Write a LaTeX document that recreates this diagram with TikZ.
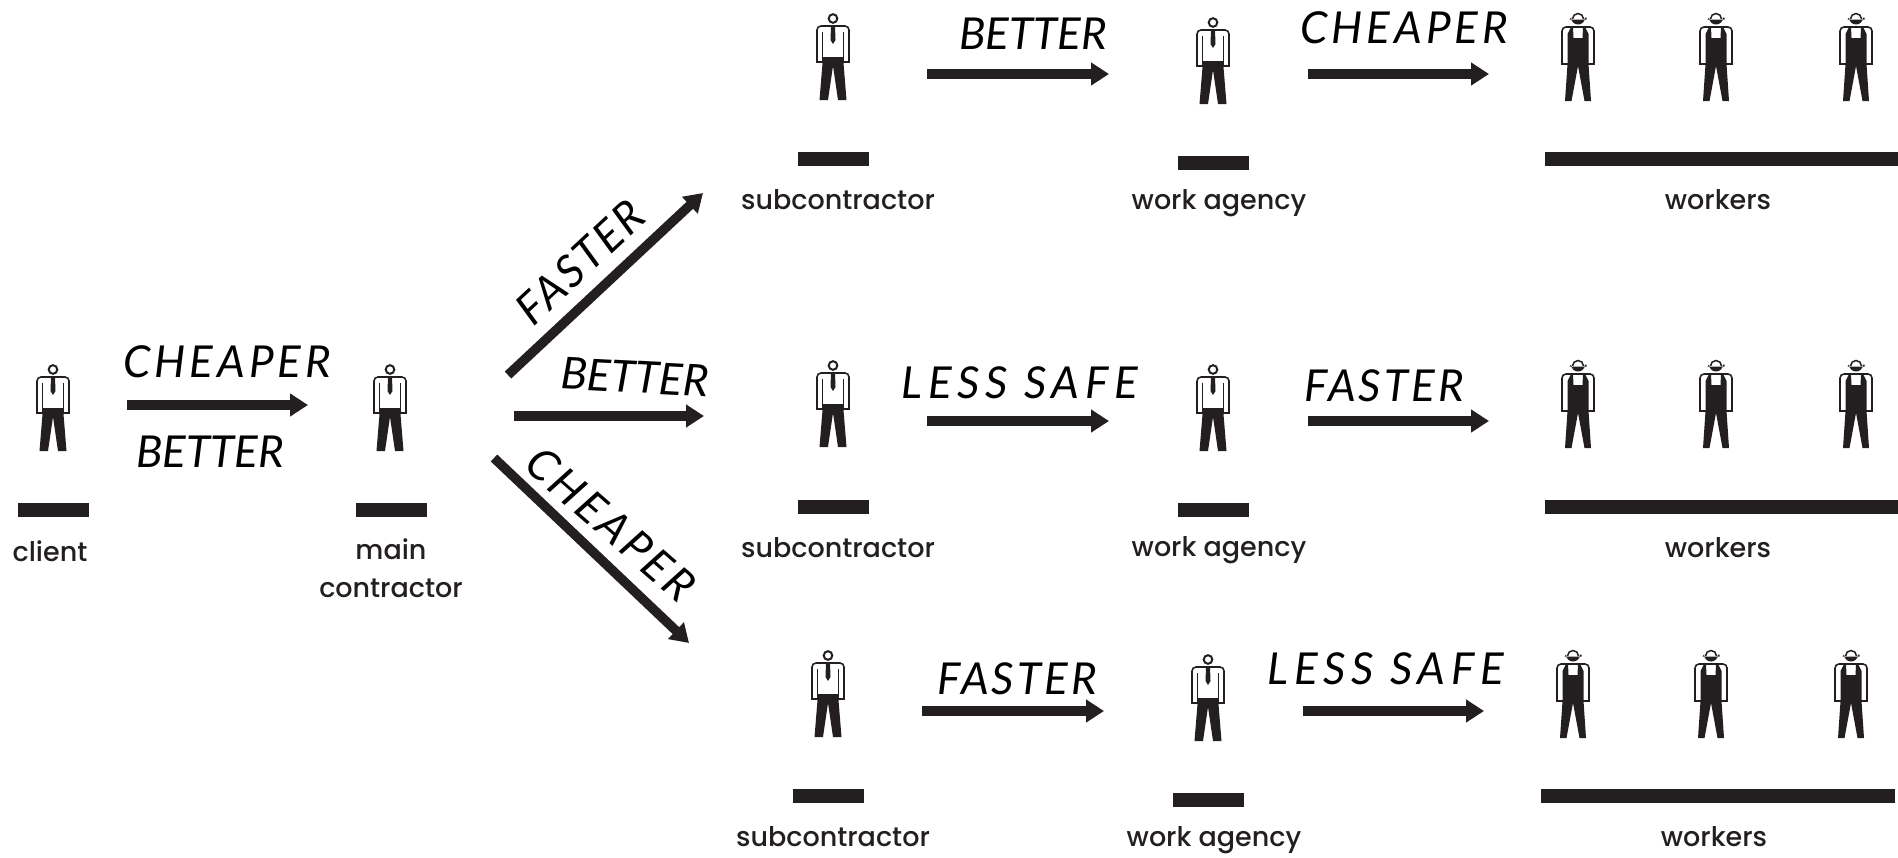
\documentclass[tikz,border=0pt]{standalone}
\usepackage{fontspec}
\setmainfont{Poppins Medium}
\newfontfamily\handfont{Lato}
\usetikzlibrary{arrows.meta,positioning}
\definecolor{inkdark}{HTML}{231F20}
\tikzset{
  manfigure/.pic={
    \draw[inkdark,line width=2pt] (0,5.5) circle[radius=4.3];
    \draw[inkdark,line width=1.6pt] (-10,49) -- (-16,49) -- (-16,17) to[out=90,in=180] (-12,13) -- (12,13) to[out=0,in=90] (16,17) -- (16,49) -- (10,49);
    \draw[inkdark,line width=1.6pt] (-10.5,19) -- (-10.5,49) (10.5,19) -- (10.5,49);
    \fill[inkdark] (-2,13) -- (2,13) -- (2.5,27) -- (0,31) -- (-2.5,27) -- cycle;
    \fill[inkdark] (-10,44) -- (10,44) -- (13.5,87) -- (5,87) -- (0,53) -- (-5,87) -- (-13.5,87) -- cycle;
  },
  workerfigure/.pic={
    \fill[inkdark] (-7,7.5) arc[start angle=180,end angle=0,radius=7] -- (8.5,7.5) -- (8.5,9.5) -- (-8.5,9.5) -- cycle;
    \draw[inkdark,line width=1.5pt] (-5.5,9) arc[start angle=180,end angle=360,radius=5.5];
    \draw[inkdark,line width=1.6pt] (-10,54) -- (-16,54) -- (-16,21) to[out=90,in=180] (-12,17) -- (12,17) to[out=0,in=90] (16,21) -- (16,54) -- (10,54);
    \fill[inkdark] (-7,17) -- (-5,17) -- (-4.5,28) -- (4.5,28) -- (5,17) -- (7,17) -- (10.5,24) -- (10.5,54) -- (13,91) -- (6.5,91) -- (0,56) -- (-6.5,91) -- (-13,91) -- (-10.5,54) -- (-10.5,24) -- cycle;
  },
  barnode/.style={fill=inkdark,inner sep=0pt,minimum width=71pt,minimum height=14pt},
  crewbar/.style={barnode,minimum width=354pt},
  whoname/.style={anchor=base,text=inkdark,inner sep=0pt,font=\fontsize{27}{30}\selectfont},
  handtext/.style={text=black,inner sep=0pt,font=\handfont\itshape\fontsize{44}{48}\selectfont\addfontfeature{LetterSpace=#1}},
  handtext/.default=0,
  flowarrow/.style={draw=inkdark,line width=9.5pt,-{Triangle[length=18pt,width=22pt]}}
}
\begin{document}
\begin{tikzpicture}[x=1pt,y=-1pt,node distance=50pt,on grid]
	\useasboundingbox (0,0) rectangle (1898,857);

	\pic at (53,364) {manfigure};
	\node[barnode] (clientbar) at (53,510) {};
	\node[whoname,below=51pt of clientbar,anchor=base,xshift=-3pt] (clientname) {client};
	\pic at (390,364) {manfigure};
	\node[barnode] (mainbar) at (391,510) {};
	\node[whoname,below=49pt of mainbar,anchor=base] (mainname) {main};
	\node[whoname,below=49pt of mainname,anchor=base] (contractorname) {contractor};

	\pic at (833,13) {manfigure};
	\node[barnode] (subbar1) at (833,159) {};
	\node[whoname,below=of subbar1,anchor=base,xshift=5pt] (subname1) {subcontractor};
	\pic at (1213,17) {manfigure};
	\node[barnode] (agencybar1) at (1213,163) {};
	\node[whoname,below=46pt of agencybar1,anchor=base,xshift=6pt] (agencyname1) {work agency};
	\pic at (1578,10) {workerfigure};
	\pic at (1716,10) {workerfigure};
	\pic at (1856,10) {workerfigure};
	\node[crewbar] (crewbar1) at (1722,159) {};
	\node[whoname,below=of crewbar1,anchor=base,xshift=-4pt] (crewname1) {workers};

	\pic at (833,360) {manfigure};
	\node[barnode] (subbar2) at (833,507) {};
	\node[whoname,below=of subbar2,anchor=base,xshift=5pt] (subname2) {subcontractor};
	\pic at (1213,364) {manfigure};
	\node[barnode] (agencybar2) at (1213,510) {};
	\node[whoname,below=46pt of agencybar2,anchor=base,xshift=6pt] (agencyname2) {work agency};
	\pic at (1578,357) {workerfigure};
	\pic at (1716,357) {workerfigure};
	\pic at (1856,357) {workerfigure};
	\node[crewbar] (crewbar2) at (1722,507) {};
	\node[whoname,below=of crewbar2,anchor=base,xshift=-4pt] (crewname2) {workers};

	\pic at (828,650) {manfigure};
	\node[barnode] (subbar3) at (828,796) {};
	\node[whoname,below=of subbar3,anchor=base,xshift=5pt] (subname3) {subcontractor};
	\pic at (1208,654) {manfigure};
	\node[barnode] (agencybar3) at (1208,800) {};
	\node[whoname,below=46pt of agencybar3,anchor=base,xshift=6pt] (agencyname3) {work agency};
	\pic at (1573,647) {workerfigure};
	\pic at (1711,647) {workerfigure};
	\pic at (1851,647) {workerfigure};
	\node[crewbar] (crewbar3) at (1718,796) {};
	\node[whoname,below=of crewbar3,anchor=base,xshift=-4pt] (crewname3) {workers};

	\coordinate (clientout) at (127,405);
	\coordinate (mainin) at (308,405);
	\coordinate (mainup) at (508,375);
	\coordinate (uptip) at (703,193);
	\coordinate (mainmid) at (514,416);
	\coordinate (midtip) at (704,416);
	\coordinate (maindown) at (494,458);
	\coordinate (downtip) at (689,643);
	\coordinate (subout1) at (927,74);
	\coordinate (agencyin1) at (1109,74);
	\coordinate (agencyout1) at (1308,74);
	\coordinate (crewin1) at (1489,74);
	\coordinate (subout2) at (927,421);
	\coordinate (agencyin2) at (1109,421);
	\coordinate (agencyout2) at (1308,421);
	\coordinate (crewin2) at (1489,421);
	\coordinate (subout3) at (922,711);
	\coordinate (agencyin3) at (1104,711);
	\coordinate (agencyout3) at (1303,711);
	\coordinate (crewin3) at (1484,711);

	\draw[flowarrow] (clientout) -- (mainin);
	\draw[flowarrow] (mainup) -- (uptip);
	\draw[flowarrow] (mainmid) -- (midtip);
	\draw[flowarrow] (maindown) -- (downtip);
	\draw[flowarrow] (subout1) -- (agencyin1);
	\draw[flowarrow] (agencyout1) -- (crewin1);
	\draw[flowarrow] (subout2) -- (agencyin2);
	\draw[flowarrow] (agencyout2) -- (crewin2);
	\draw[flowarrow] (subout3) -- (agencyin3);
	\draw[flowarrow] (agencyout3) -- (crewin3);

	\node[handtext=9] (tagcheaper) at (227,362) {CHEAPER};
	\node[handtext] (tagbetter) at (210,452) {BETTER};
	\node[handtext=6,rotate=43] (tagup) at (580,262) {FASTER};
	\node[handtext,rotate=-3] (tagmid) at (635,377) {BETTER};
	\node[handtext=9,rotate=-41] (tagdown) at (611,524) {CHEAPER};
	\node[handtext] (tagbetter1) at (1033,34) {BETTER};
	\node[handtext=9] (tagcheaper1) at (1404,28) {CHEAPER};
	\node[handtext=13] (tagsafe2) at (1020,383) {LESS SAFE};
	\node[handtext=7] (tagfaster2) at (1384,386) {FASTER};
	\node[handtext=7] (tagfaster3) at (1017,679) {FASTER};
	\node[handtext=13] (tagsafe3) at (1386,669) {LESS SAFE};
\end{tikzpicture}
\end{document}
